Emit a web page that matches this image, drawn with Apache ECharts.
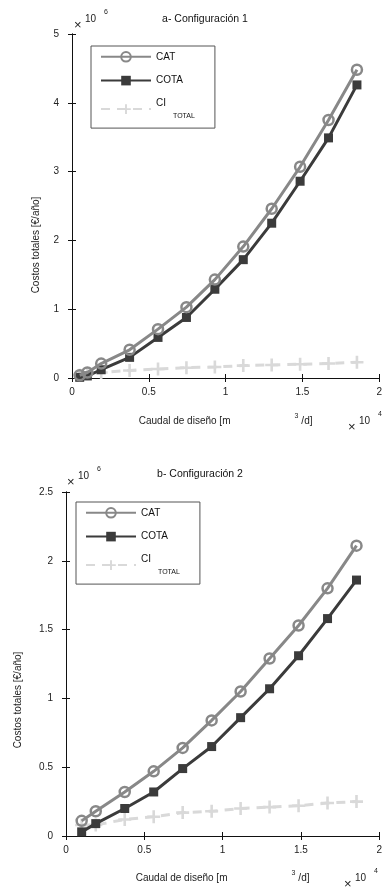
<!DOCTYPE html>
<html>
<head>
<meta charset="utf-8">
<style>
  html, body { margin: 0; padding: 0; background: #fff; }
  #main { width: 385px; height: 890px; }
</style>
</head>
<body>
<div id="main"></div>
<script src="https://cdn.jsdelivr.net/npm/echarts@6/dist/echarts.min.js"></script>
<script>
    // a- Configuración 1  (x: 10^4 m3/d, y: 10^6 €/año)
    var xA    = [0.05, 0.1, 0.19, 0.375, 0.56, 0.745, 0.93, 1.115, 1.3, 1.485, 1.67, 1.855];
    var catA  = [0.04, 0.08, 0.21, 0.41, 0.71, 1.03, 1.43, 1.91, 2.46, 3.07, 3.75, 4.48];
    var cotaA = [0.01, 0.03, 0.12, 0.30, 0.59, 0.88, 1.29, 1.72, 2.25, 2.86, 3.49, 4.26];
    var ciA   = [0.04, 0.06, 0.08, 0.11, 0.13, 0.15, 0.16, 0.18, 0.19, 0.20, 0.21, 0.23];

    // b- Configuración 2
    var xB    = [0.1, 0.19, 0.375, 0.56, 0.745, 0.93, 1.115, 1.3, 1.485, 1.67, 1.855];
    var catB  = [0.11, 0.18, 0.32, 0.47, 0.64, 0.84, 1.05, 1.29, 1.53, 1.80, 2.11];
    var cotaB = [0.03, 0.09, 0.20, 0.32, 0.49, 0.65, 0.86, 1.07, 1.31, 1.58, 1.86];
    var ciB   = [0.08, 0.08, 0.12, 0.14, 0.17, 0.18, 0.20, 0.21, 0.22, 0.24, 0.25];

    var titles = ['a- Configuración 1', 'b- Configuración 2'];
    var yName = 'Costos totales [€/año]';
    var yMax = [5, 2.5];
    var yStep = [1, 0.5];

    var FONT = '"Liberation Sans", Arial, sans-serif';
    var plus = 'path://M4,0H6V4H10V6H6V10H4V6H0V4H4Z';

    function pts(xs, ys) {
        return xs.map(function (x, i) { return [x, ys[i]]; });
    }

    var myChart = echarts.init(document.getElementById('main'));

    var grids = [
        {left: 72, top: 34, width: 311, height: 344},
        {left: 66, top: 492, width: 316, height: 344}
    ];

    var xAxes = [], yAxes = [];
    [0, 1].forEach(function (g) {
        // abajo + arriba
        xAxes.push({
            type: 'value', gridIndex: g, min: 0, max: 2, interval: 0.5,
            name: '{a|Caudal de diseño [m}{s|3}{a|/d]}',
            nameLocation: 'middle', nameGap: g === 0 ? 35 : 34,
            nameTextStyle: {
                rich: {
                    a: {fontFamily: FONT, fontSize: 10, color: '#222'},
                    s: {fontFamily: FONT, fontSize: 7, color: '#222', padding: [0, 3, 9, 64]}
                }
            },
            axisLine: {lineStyle: {color: '#111', width: 1}},
            axisTick: {inside: true, length: 4, lineStyle: {color: '#111'}},
            axisLabel: {fontFamily: FONT, fontSize: 10, color: '#222', margin: 9},
            splitLine: {show: false}
        });
        xAxes.push({
            type: 'value', gridIndex: g, min: 0, max: 2, interval: 0.5, position: 'top',
            axisLine: {lineStyle: {color: '#111', width: 1}},
            axisTick: {inside: true, length: 4, lineStyle: {color: '#111'}},
            axisLabel: {show: false},
            splitLine: {show: false}
        });
        // izquierda + derecha
        yAxes.push({
            type: 'value', gridIndex: g, min: 0, max: yMax[g], interval: yStep[g],
            axisLine: {lineStyle: {color: '#111', width: 1}},
            axisTick: {inside: true, length: 4, lineStyle: {color: '#111'}},
            axisLabel: {fontFamily: FONT, fontSize: 10, color: '#222', margin: 13},
            splitLine: {show: false}
        });
        yAxes.push({
            type: 'value', gridIndex: g, min: 0, max: yMax[g], interval: yStep[g], position: 'right',
            axisLine: {lineStyle: {color: '#111', width: 1}},
            axisTick: {inside: true, length: 4, lineStyle: {color: '#111'}},
            axisLabel: {show: false},
            splitLine: {show: false}
        });
    });

    function makeSeries(g, xs, cat, cota, ci) {
        var xi = g * 2, yi = g * 2;
        return [
            {
                name: 'CI', type: 'line', xAxisIndex: xi, yAxisIndex: yi,
                data: pts(xs, ci),
                symbol: plus, symbolSize: 13,
                lineStyle: {color: '#d9d9d9', width: 3, type: [9, 7]},
                itemStyle: {color: '#d9d9d9'},
                z: 1, silent: true
            },
            {
                name: 'COTA', type: 'line', xAxisIndex: xi, yAxisIndex: yi,
                data: pts(xs, cota),
                symbol: 'rect', symbolSize: 9,
                lineStyle: {color: '#3b3b3b', width: 3},
                itemStyle: {color: '#3b3b3b'},
                z: 2, silent: true
            },
            {
                name: 'CAT', type: 'line', xAxisIndex: xi, yAxisIndex: yi,
                data: pts(xs, cat),
                symbol: 'circle', symbolSize: 10,
                lineStyle: {color: '#888888', width: 3},
                itemStyle: {color: 'rgba(255,255,255,0)', borderColor: '#888888', borderWidth: 2.5},
                z: 3, silent: true
            }
        ];
    }

    var series = makeSeries(0, xA, catA, cotaA, ciA).concat(makeSeries(1, xB, catB, cotaB, ciB));

    function legendAt(left, top) {
        return {
            left: left, top: top, orient: 'vertical',
            data: ['CAT', 'COTA', 'CI'],
            itemWidth: 50, itemHeight: 12, itemGap: 13,
            padding: [5, 20, 9, 9],
            borderColor: '#555', borderWidth: 1,
            backgroundColor: '#fff',
            selectedMode: false,
            formatter: function (name) {
                return name === 'CI' ? '{a|CI}\n{b|TOTAL}' : '{a|' + name + '}';
            },
            textStyle: {
                rich: {
                    a: {fontFamily: FONT, fontSize: 10, color: '#111', lineHeight: 13},
                    b: {fontFamily: FONT, fontSize: 7, color: '#111', lineHeight: 11, padding: [0, 0, 0, 17]}
                }
            }
        };
    }

    // "× 10^n" multiplicador de eje
    function multiplier(x, y, exp) {
        return [
            {type: 'text', left: x, top: y + 5, style: {text: '×', font: '13px ' + FONT, fill: '#222'}},
            {type: 'text', left: x + 11, top: y, style: {text: '10', font: '10px ' + FONT, fill: '#222'}},
            {type: 'text', left: x + 30, top: y - 5, style: {text: exp, font: '7px ' + FONT, fill: '#222'}}
        ];
    }

    function ylabel(cx, cy) {
        return {
            type: 'text', x: cx, y: cy, rotation: Math.PI / 2,
            style: {text: yName, font: '10px ' + FONT, fill: '#222', align: 'center', verticalAlign: 'middle'}
        };
    }

    var option = {
        backgroundColor: '#fff',
        animation: false,
        title: [
            {text: titles[0], left: 200, top: 9, textAlign: 'center',
             textStyle: {fontFamily: FONT, fontSize: 10.5, fontWeight: 'normal', color: '#111'}},
            {text: titles[1], left: 195, top: 464, textAlign: 'center',
             textStyle: {fontFamily: FONT, fontSize: 10.5, fontWeight: 'normal', color: '#111'}}
        ],
        grid: grids,
        xAxis: xAxes,
        yAxis: yAxes,
        legend: [legendAt(91, 46), legendAt(76, 502)],
        graphic: [].concat(
            multiplier(74, 14, '6'),
            multiplier(67, 471, '6'),
            multiplier(348, 416, '4'),
            multiplier(344, 873, '4'),
            [ylabel(36, 245), ylabel(18, 700)]
        ),
        series: series
    };
    myChart.setOption(option);
</script>
</body>
</html>
